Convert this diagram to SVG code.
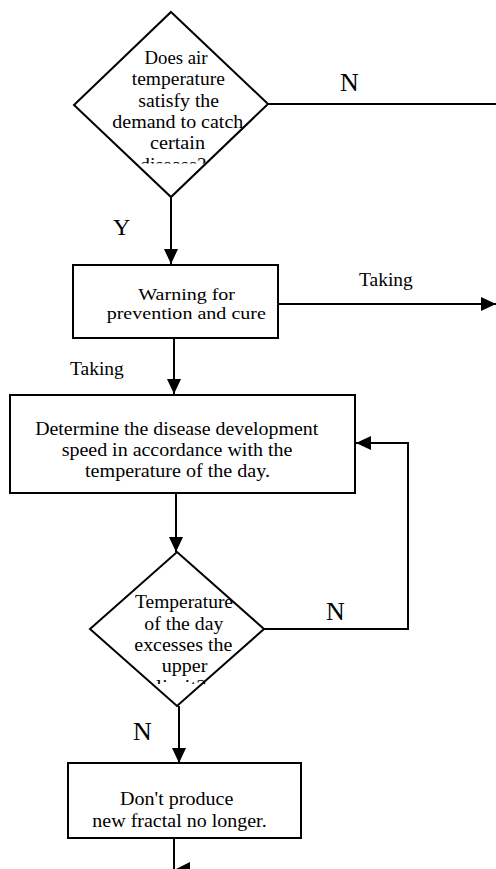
<svg xmlns="http://www.w3.org/2000/svg" width="496" height="869" viewBox="0 0 496 869">
<style>
.shape{fill:#fff;stroke:#000;stroke-width:2}
.line{fill:none;stroke:#000;stroke-width:2}
.t{font-family:"Liberation Serif","Times New Roman",serif;fill:#000;text-anchor:middle}
.n18{font-size:18px}
.lbl{font-family:"Liberation Serif","Times New Roman",serif;fill:#000}
</style>
<defs>
<marker id="ah" markerWidth="15" markerHeight="14" refX="15" refY="7" orient="auto" markerUnits="userSpaceOnUse">
<path d="M0,0 L15,7 L0,14 Z" fill="#000"/>
</marker>
<clipPath id="c1"><rect x="60" y="0" width="260" height="163.5"/></clipPath>
<clipPath id="c2"><rect x="80" y="540" width="220" height="144"/></clipPath>
<linearGradient id="edge" x1="0" y1="0" x2="0" y2="1">
<stop offset="0" stop-color="#f0f0f0"/>
<stop offset="1" stop-color="#808080"/>
</linearGradient>
</defs>
<rect width="496" height="869" fill="#fff"/>

<g id="connectors">
<line class="line" x1="171" y1="197" x2="171" y2="264" marker-end="url(#ah)"/>
<line class="line" x1="268" y1="104" x2="496" y2="104"/>
<line class="line" x1="278" y1="304" x2="496" y2="304" marker-end="url(#ah)"/>
<line class="line" x1="174" y1="338" x2="174" y2="394" marker-end="url(#ah)"/>
<line class="line" x1="176" y1="493" x2="176" y2="552" marker-end="url(#ah)"/>
<polyline class="line" points="264,629 408,629 408,443 356,443" marker-end="url(#ah)"/>
<line class="line" x1="179" y1="706" x2="179" y2="763" marker-end="url(#ah)"/>
<line class="line" x1="174" y1="838" x2="174" y2="869"/>
<path d="M176,869 L190,862 L190,876 Z" fill="#000"/>
<text class="lbl" x="340" y="91" font-size="26">N</text>
<text class="lbl" x="113" y="235" font-size="24">Y</text>
<text class="lbl" x="359" y="286" font-size="19.5">Taking</text>
<text class="lbl" x="70" y="375" font-size="19.5">Taking</text>
<text class="lbl" x="326" y="620" font-size="26">N</text>
<text class="lbl" x="133" y="740" font-size="26">N</text>
</g>

<g id="decision1">
<polygon class="shape" points="171,12 268,104 171,197 74,105"/>
<g clip-path="url(#c1)">
<text class="t n18" x="176" y="64" textLength="63" lengthAdjust="spacingAndGlyphs">Does air</text>
<text class="t n18" x="178.3" y="85.3" textLength="93" lengthAdjust="spacingAndGlyphs">temperature</text>
<text class="t n18" x="178.7" y="106.6" textLength="80.7" lengthAdjust="spacingAndGlyphs">satisfy the</text>
<text class="t n18" x="177.8" y="128" textLength="131" lengthAdjust="spacingAndGlyphs">demand to catch</text>
<text class="t n18" x="177.5" y="149.3" textLength="55" lengthAdjust="spacingAndGlyphs">certain</text>
<text class="t n18" x="173" y="170.6" textLength="66" lengthAdjust="spacingAndGlyphs">disease?</text>
</g>
</g>

<g id="warning">
<rect class="shape" x="73" y="265" width="205" height="73"/>
<text class="t" font-size="16.5" x="186.7" y="300" textLength="96.7" lengthAdjust="spacingAndGlyphs">Warning for</text>
<text class="t" font-size="16.5" x="186.3" y="318.5" textLength="159.3" lengthAdjust="spacingAndGlyphs">prevention and cure</text>
</g>

<g id="determine">
<rect class="shape" x="10" y="395" width="345" height="98"/>
<text class="t" font-size="18.5" x="176.7" y="435" textLength="283" lengthAdjust="spacingAndGlyphs">Determine the disease development</text>
<text class="t" font-size="18.5" x="177" y="456" textLength="230.7" lengthAdjust="spacingAndGlyphs">speed in accordance with the</text>
<text class="t" font-size="18.5" x="177.5" y="476.7" textLength="185" lengthAdjust="spacingAndGlyphs">temperature of the day.</text>
</g>

<g id="decision2">
<polygon class="shape" points="177,552 264,629 177,706 90,629"/>
<g clip-path="url(#c2)">
<text class="t" font-size="19" x="184" y="608.3" textLength="98" lengthAdjust="spacingAndGlyphs">Temperature</text>
<text class="t" font-size="19" x="183.8" y="629.5" textLength="79" lengthAdjust="spacingAndGlyphs">of the day</text>
<text class="t" font-size="19" x="183.3" y="650.8" textLength="98" lengthAdjust="spacingAndGlyphs">excesses the</text>
<text class="t" font-size="19" x="184.5" y="672" textLength="45.7" lengthAdjust="spacingAndGlyphs">upper</text>
<text class="t" font-size="19" x="181" y="693.3" textLength="50" lengthAdjust="spacingAndGlyphs">limit?</text>
</g>
</g>

<g id="noproduce">
<rect class="shape" x="68" y="763" width="233" height="75"/>
<text class="t n18" x="176.7" y="805" textLength="113.3" lengthAdjust="spacingAndGlyphs">Don't produce</text>
<text class="t n18" x="179.5" y="827.3" textLength="174.3" lengthAdjust="spacingAndGlyphs">new fractal no longer.</text>
</g>

<line x1="495.5" y1="690" x2="495.5" y2="869" stroke="url(#edge)" stroke-width="1.5"/>
</svg>
